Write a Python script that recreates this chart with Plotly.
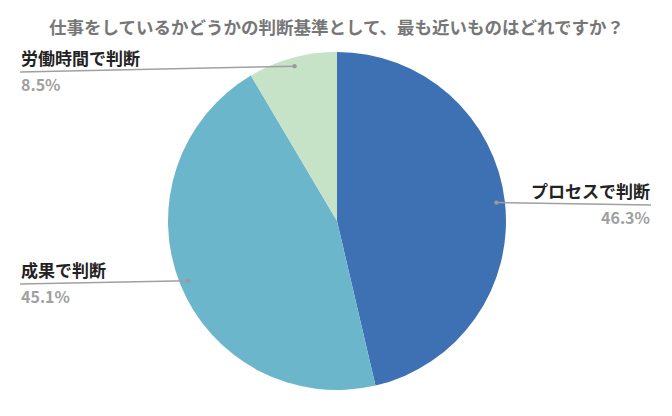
import math
import plotly.graph_objects as go

labels = ["プロセスで判断", "成果で判断", "労働時間で判断"]
values = [46.3, 45.1, 8.5]
colors = ["#3D71B3", "#6CB6CB", "#C6E2C7"]
title = "仕事をしているかどうかの判断基準として、最も近いものはどれですか？"

W, H = 672, 416
cx, cy, R = 337, 221, 169

# label layout (pixel): (x of text anchor, line y, text align)
label_layout = [
    (651, 205, "right"),
    (20, 284, "left"),
    (20, 72, "left"),
]

FONT = "Noto Sans CJK JP, Noto Sans, sans-serif"

fig = go.Figure(go.Pie(
    labels=labels, values=values, sort=False, direction="clockwise", rotation=0,
    marker=dict(colors=colors, line=dict(width=0)),
    textinfo="none", hoverinfo="label+percent", showlegend=False,
    domain=dict(x=[(cx - R) / W, (cx + R) / W], y=[1 - (cy + R) / H, 1 - (cy - R) / H]),
))

def px(x):
    return x / W

def py(y):
    return 1 - y / H

total = sum(values)
cum = 0
shapes = []
annotations = []
for lab, v, (lx, ly, align) in zip(labels, values, label_layout):
    mid = (cum + v / 2) / total * 2 * math.pi
    cum += v
    dx = 0.95 * R * math.sin(mid)
    dy = -0.95 * R * math.cos(mid)
    dotx, doty = cx + dx, cy + dy
    shapes.append(dict(type="line", xref="paper", yref="paper",
                       x0=px(lx), y0=py(ly), x1=px(dotx), y1=py(doty),
                       line=dict(color="#a0a0a0", width=1.5)))
    r = 2.2
    shapes.append(dict(type="circle", xref="paper", yref="paper",
                       x0=px(dotx - r), x1=px(dotx + r), y0=py(doty + r), y1=py(doty - r),
                       fillcolor="#9a9a9a", line=dict(width=0)))
    xanchor = "right" if align == "right" else "left"
    annotations.append(dict(text="<b>%s</b>" % lab, x=px(lx), y=py(ly - 1), xref="paper", yref="paper",
                            xanchor=xanchor, yanchor="bottom", showarrow=False, borderpad=0,
                            font=dict(family=FONT, size=17, color="#222222")))
    annotations.append(dict(text="<b>%.1f%%</b>" % v, x=px(lx), y=py(ly - 1), xref="paper", yref="paper",
                            xanchor=xanchor, yanchor="top", showarrow=False, borderpad=0,
                            font=dict(family=FONT, size=16, color="#a0a0a0")))

annotations.append(dict(text="<b>%s</b>" % title, x=px(336), y=py(27), xref="paper", yref="paper",
                        xanchor="center", yanchor="middle", showarrow=False,
                        font=dict(family=FONT, size=17.5, color="#777777")))

fig.update_layout(width=W, height=H, margin=dict(l=0, r=0, t=0, b=0),
                  paper_bgcolor="white", plot_bgcolor="white",
                  shapes=shapes, annotations=annotations)

fig.write_html("out.html")
